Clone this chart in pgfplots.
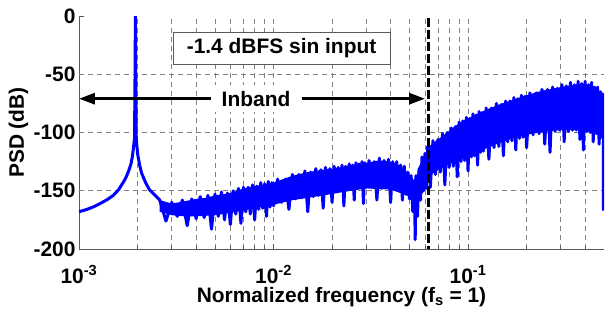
\documentclass[border=0pt]{standalone}
\usepackage{fontspec}
\setmainfont{Liberation Sans}
\usepackage{pgfplots}
\pgfplotsset{compat=1.18}
\usetikzlibrary{arrows.meta}
\definecolor{psdblue}{RGB}{0,0,255}
\definecolor{gridgray}{RGB}{128,128,128}
\definecolor{axgray}{RGB}{90,90,90}
\newcommand{\bigbf}{\fontsize{21}{25}\selectfont\bfseries}
\begin{document}
\begin{tikzpicture}
\begin{axis}[
  at={(0,0)}, anchor=south west,
  scale only axis, width=525bp, height=233bp,
  xmode=log, xmin=0.001, xmax=0.5, ymin=-200, ymax=0,
  axis x line*=bottom, axis y line*=left,
  axis line style={axgray, line width=0.8bp, -},
  xtick={0.001,0.01,0.1},
  xticklabels={10\textsuperscript{-3},10\textsuperscript{-2},10\textsuperscript{-1}},
  minor xtick={0.002,0.003,0.004,0.005,0.006,0.007,0.008,0.009,0.02,0.03,0.04,0.05,0.06,0.07,0.08,0.09,0.2,0.3,0.4},
  ytick={-200,-150,-100,-50,0},
  yticklabels={-200,-150,-100,-50,0},
  xmajorgrids, xminorgrids,
  extra y ticks={-150,-100,-50}, extra y tick labels={},
  extra y tick style={grid=major, major tick length=0pt},
  grid style={gridgray, dash pattern=on 5bp off 4bp, line width=0.7bp},
  tick style={axgray, line width=0.7bp},
  tick align=inside,
  major tick length=5bp, minor tick length=3bp,
  ticklabel style={font=\bigbf},
  xticklabel style={anchor=base, inner sep=0pt, yshift=-34bp},
  xlabel={Normalized frequency (f\textsubscript{s} = 1)},
  ylabel={PSD (dB)},
  xlabel style={font=\bigbf, inner sep=0pt, at={(axis description cs:0.5,-0.2275)}, anchor=base},
  ylabel style={font=\bigbf, at={(axis description cs:-0.1152,0.5)}, anchor=center},
]
% solid core of the noise band
\addplot[draw=none, fill=psdblue] coordinates {
(0.0026,-158) (0.003,-161) (0.0035,-159) (0.004,-157) (0.0045,-156) (0.005,-154) (0.006,-152) (0.007,-148) (0.008,-146) (0.01,-143) (0.0126,-137) (0.015,-134) (0.018,-132) (0.022,-130) (0.026,-128) (0.03,-126) (0.035,-124) (0.04,-125) (0.043,-127) (0.046,-130) (0.049,-135) (0.0515,-140) (0.053,-142) (0.0545,-137) (0.056,-129) (0.059,-121) (0.0625,-113) (0.066,-109) (0.07,-106) (0.078,-100) (0.085,-95) (0.094,-90) (0.105,-86) (0.115,-83) (0.13,-79) (0.15,-75) (0.17,-72) (0.2,-68) (0.23,-65) (0.26,-63) (0.3,-61) (0.35,-59) (0.4,-58) (0.44,-60) (0.465,-64) (0.485,-69) (0.495,-78)
(0.495,-108) (0.48,-103) (0.44,-100) (0.38,-98) (0.3,-98) (0.25,-99) (0.2,-102) (0.17,-105) (0.14,-110) (0.115,-116) (0.094,-122) (0.078,-128) (0.066,-135) (0.0625,-140) (0.06,-150) (0.056,-155) (0.054,-162) (0.052,-160) (0.05,-155) (0.045,-152) (0.04,-149) (0.03,-148) (0.023,-151) (0.018,-154) (0.0126,-158) (0.01,-162) (0.008,-165) (0.007,-167) (0.006,-169) (0.005,-171) (0.004,-172) (0.0035,-172) (0.003,-171) (0.0026,-168)
} -- cycle;
% PSD trace
\addplot[psdblue, line width=3bp, line join=round] coordinates {
(0.001,-168) (0.0011,-166) (0.0012,-163.5) (0.0013,-160.5) (0.0014,-157.5) (0.0015,-154) (0.0016,-149) (0.0017,-142) (0.00175,-138) (0.0018,-133) (0.00185,-127) (0.00188,-121) (0.0019,-115) (0.00193,-105) (0.00194,-60) (0.00195,0) (0.00196,-60) (0.00197,-105) (0.002,-118) (0.00205,-128) (0.0021,-135) (0.0022,-143) (0.0023,-149) (0.0024,-152) (0.0025,-155)
(0.0026,-158) (0.0028,-176) (0.0030,-160) (0.0032,-172) (0.0034,-158) (0.0036,-180) (0.0038,-157) (0.0040,-174) (0.0042,-155) (0.0044,-173) (0.0046,-154) (0.0048,-183) (0.0050,-153) (0.0052,-172) (0.0054,-151) (0.0056,-175) (0.0058,-152) (0.0060,-179) (0.0062,-150) (0.0064,-170) (0.0066,-148) (0.0068,-178) (0.0070,-147) (0.0072,-168) (0.0074,-147) (0.0076,-170) (0.0078,-145) (0.0080,-175) (0.0082,-146) (0.0084,-166) (0.0086,-143) (0.0088,-165) (0.0090,-144) (0.0092,-172) (0.0094,-142) (0.0096,-164) (0.0098,-143) (0.0100,-163)
(0.0105,-140) (0.0110,-160) (0.0115,-140) (0.0120,-166) (0.0125,-136) (0.0130,-157) (0.0135,-136) (0.0140,-156) (0.0145,-133) (0.0150,-168) (0.0155,-134) (0.0160,-155) (0.0165,-131) (0.0170,-154) (0.0175,-132) (0.0180,-165) (0.0185,-130) (0.0190,-152) (0.0195,-131) (0.0200,-160) (0.0205,-129) (0.0210,-151) (0.0215,-130) (0.0220,-150) (0.0225,-128) (0.0230,-163) (0.0235,-129) (0.0240,-149) (0.0245,-127) (0.0250,-148) (0.0255,-128) (0.0260,-158) (0.0265,-126) (0.0270,-148) (0.0275,-127) (0.0280,-147) (0.0285,-125) (0.0290,-161) (0.0295,-126) (0.0300,-147)
(0.031,-124) (0.032,-147) (0.033,-125) (0.034,-158) (0.035,-122) (0.036,-148) (0.037,-124) (0.038,-147) (0.039,-123) (0.040,-160) (0.041,-125) (0.042,-149) (0.043,-125) (0.044,-150) (0.045,-128) (0.046,-158) (0.047,-129) (0.048,-153) (0.049,-134) (0.050,-157) (0.051,-137) (0.052,-168) (0.053,-141) (0.0535,-192) (0.054,-137) (0.055,-172) (0.056,-131) (0.057,-158) (0.058,-121) (0.059,-150) (0.060,-118) (0.061,-148) (0.062,-112)
(0.064,-147) (0.066,-107) (0.068,-136) (0.070,-106) (0.072,-134) (0.074,-101) (0.076,-145) (0.078,-100) (0.080,-130) (0.082,-96) (0.084,-129) (0.086,-95) (0.088,-138) (0.090,-91) (0.092,-125) (0.094,-90) (0.096,-124) (0.098,-87) (0.100,-133) (0.102,-88) (0.104,-121) (0.106,-84) (0.108,-120) (0.110,-85) (0.112,-128) (0.114,-82) (0.116,-117) (0.118,-83) (0.120,-116)
(0.124,-79) (0.128,-123) (0.132,-79) (0.136,-113) (0.140,-75) (0.144,-112) (0.148,-76) (0.152,-120) (0.156,-73) (0.160,-108) (0.164,-73) (0.168,-107) (0.172,-70) (0.176,-115) (0.180,-71) (0.184,-105) (0.188,-68) (0.192,-104) (0.196,-69) (0.200,-113)
(0.208,-66) (0.216,-102) (0.224,-66) (0.232,-101) (0.240,-63) (0.248,-110) (0.256,-63) (0.264,-117) (0.272,-61) (0.280,-99) (0.288,-62) (0.296,-98) (0.304,-59) (0.312,-108) (0.320,-60) (0.328,-99) (0.336,-57) (0.344,-98) (0.352,-59) (0.360,-98) (0.368,-56) (0.376,-106) (0.384,-58) (0.392,-115) (0.400,-56) (0.408,-99) (0.416,-59) (0.424,-100) (0.432,-57) (0.440,-108) (0.448,-61) (0.456,-101) (0.464,-61) (0.472,-110) (0.480,-65) (0.488,-104) (0.493,-67) (0.496,-80) (0.497,-167)
};
% band edge
\addplot[black, line width=3.5bp, dash pattern=on 9bp off 3bp] coordinates {(0.0625,-2) (0.0625,-200)};
% annotations
\node[font=\bigbf, fill=white, inner xsep=11bp, inner ysep=6bp] (ib) at (axis cs:0.00813,-71) {Inband};
\draw[line width=3bp, -{Triangle[length=16bp,width=11bp]}] (ib.west) -- (axis cs:0.001,-71);
\draw[line width=3bp, -{Triangle[length=16bp,width=11bp]}] (ib.east) -- (axis cs:0.0601,-71);
\node[font=\bigbf, draw=axgray, fill=white, line width=0.8bp, minimum width=217bp, minimum height=32bp, inner sep=0pt] at (axis cs:0.011,-27.5) {-1.4 dBFS sin input};
\end{axis}
\pgfresetboundingbox
\useasboundingbox (-79bp,-63bp) rectangle (527bp,249bp);
\end{tikzpicture}
\end{document}
